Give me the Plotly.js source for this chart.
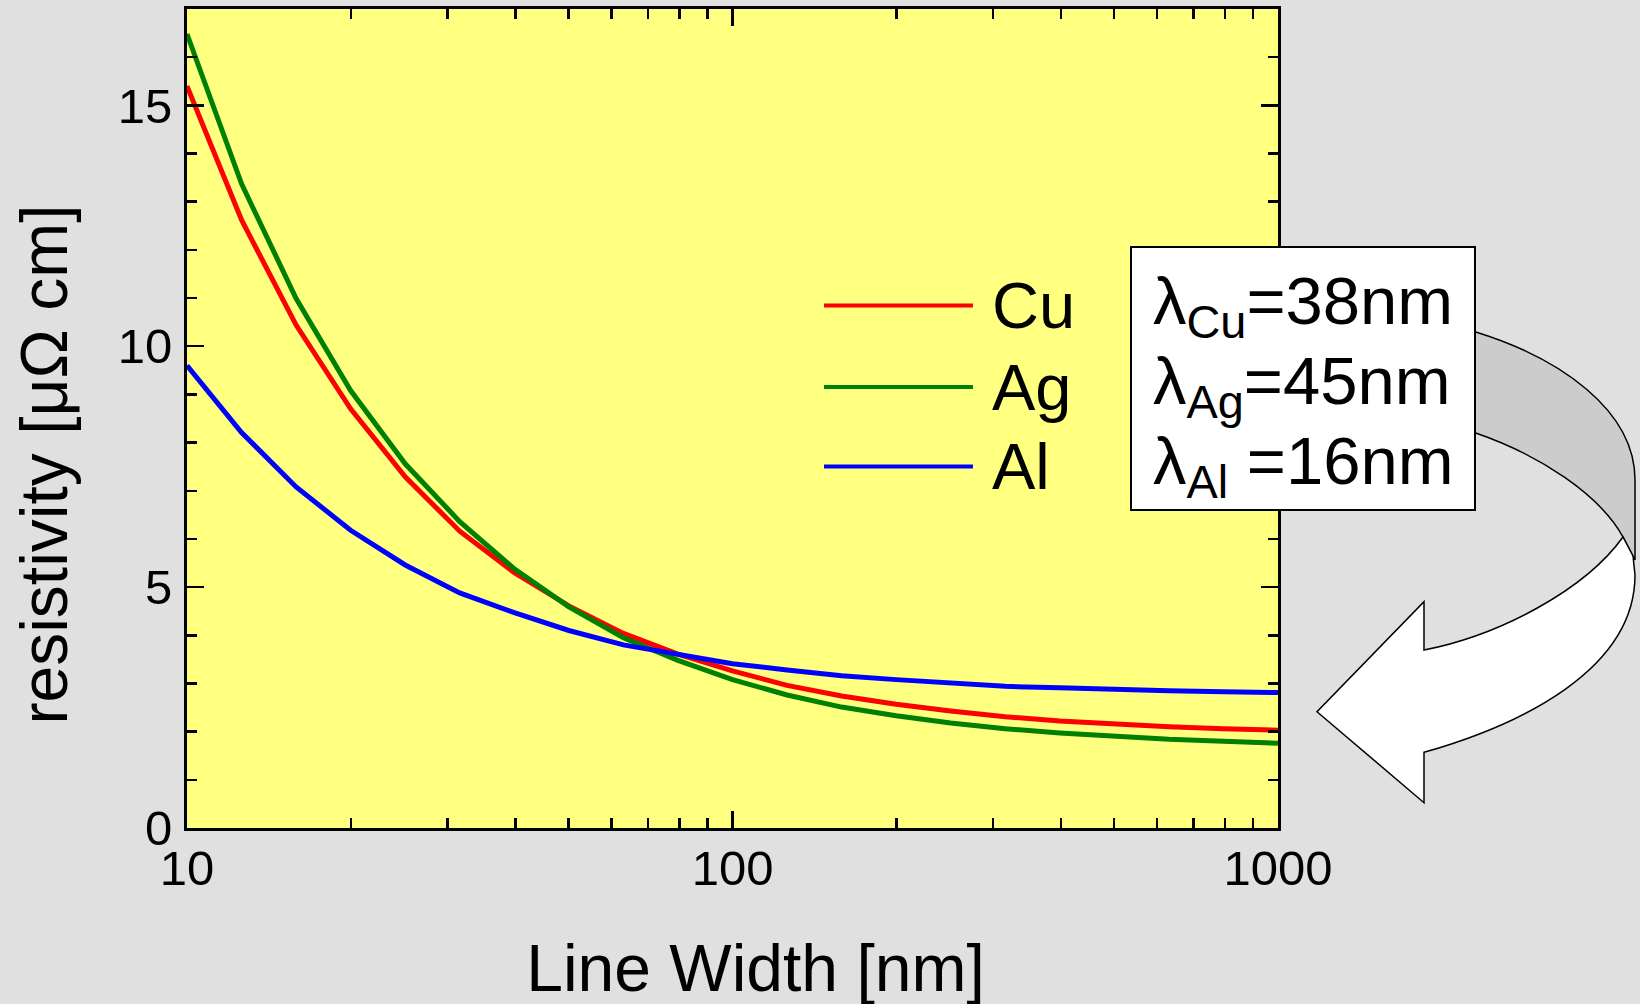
<!DOCTYPE html>
<html>
<head>
<meta charset="utf-8">
<script src="https://cdn.plot.ly/plotly-3.0.1.min.js"></script>
<style>
html,body{margin:0;padding:0;background:#e0e0e0;}
#chart{width:1640px;height:1004px;}
</style>
</head>
<body>
<div id="chart"></div>
<script>
// ---- data ----
const lineWidthNm = [10, 12.59, 15.85, 19.95, 25.12, 31.62, 39.81, 50.12, 63.1, 79.43, 100, 125.9, 158.5, 199.5, 251.2, 316.2, 398.1, 501.2, 631, 794.3, 1000];
const rhoCu = [15.40, 12.62, 10.44, 8.70, 7.29, 6.16, 5.30, 4.61, 4.04, 3.61, 3.26, 2.96, 2.74, 2.57, 2.43, 2.31, 2.22, 2.15, 2.10, 2.06, 2.03];
const rhoAg = [16.48, 13.37, 10.99, 9.08, 7.56, 6.36, 5.38, 4.59, 3.95, 3.48, 3.08, 2.76, 2.51, 2.33, 2.18, 2.06, 1.97, 1.90, 1.84, 1.80, 1.76];
const rhoAl = [9.60, 8.21, 7.08, 6.18, 5.46, 4.88, 4.47, 4.10, 3.80, 3.61, 3.41, 3.28, 3.16, 3.08, 3.00, 2.94, 2.91, 2.87, 2.85, 2.83, 2.81];
const seriesNames = ['Cu', 'Ag', 'Al'];
const seriesColors = ['#ff0000', '#008000', '#0000ff'];
const mfpLabels = ['λ<sub>Cu</sub>=38nm', 'λ<sub>Ag</sub>=45nm', 'λ<sub>Al</sub> =16nm'];
const xTitle = 'Line Width [nm]';
const yTitle = 'resistivity [μΩ cm]';

// ---- geometry helpers (pixel -> paper) ----
const W = 1640, H = 1004, ML = 187, MR = 362, MT = 9, MB = 176;
const PW = W - ML - MR, PH = H - MT - MB;
const px = x => (x - ML) / PW;
const py = y => (H - MB - y) / PH;
function pathPx(cmds) {
  return cmds.map(c => c[0] + ' ' + c.slice(1).map(p => px(p[0]).toFixed(5) + ',' + py(p[1]).toFixed(5)).join(' ')).join(' ') + ' Z';
}
const FONT = 'Liberation Sans, Arial, sans-serif';

const seriesY = [rhoCu, rhoAg, rhoAl];
const traces = seriesNames.map((n, i) => ({
  type: 'scatter', mode: 'lines', name: n,
  x: lineWidthNm, y: seriesY[i],
  line: {color: seriesColors[i], width: 5},
  showlegend: false, hoverinfo: 'skip'
}));

const shapes = [];
// curved arrow: grey back ribbon
shapes.push({type: 'path', xref: 'paper', yref: 'paper', layer: 'above',
  path: pathPx([['M', [1475, 331.7]], ['C', [1560, 358], [1635, 410], [1635, 480]], ['L', [1635, 560]], ['L', [1623, 537]], ['C', [1600, 495], [1540, 455], [1475, 432.7]]]),
  fillcolor: '#cccccc', line: {color: '#000000', width: 1.5}});
// white front ribbon with arrow head
shapes.push({type: 'path', xref: 'paper', yref: 'paper', layer: 'above',
  path: pathPx([['M', [1623, 537]], ['C', [1585, 590], [1500, 635], [1424, 650]], ['L', [1424, 601.7]], ['L', [1317, 711.7]], ['L', [1424, 802.7]], ['L', [1424, 752.3]], ['C', [1520, 725], [1635, 670], [1635, 575]], ['L', [1633, 556]]]),
  fillcolor: '#ffffff', line: {color: '#000000', width: 1.5}});
// mean free path box
shapes.push({type: 'rect', xref: 'paper', yref: 'paper', layer: 'above',
  x0: px(1131), x1: px(1475), y0: py(510), y1: py(247),
  fillcolor: '#ffffff', line: {color: '#000000', width: 2}});

const legendY = [305.5, 387, 466.5];
const annotations = [];
seriesNames.forEach((n, i) => {
  shapes.push({type: 'line', xref: 'paper', yref: 'paper', layer: 'above',
    x0: px(824), x1: px(973), y0: py(legendY[i]), y1: py(legendY[i]),
    line: {color: seriesColors[i], width: 4}});
  annotations.push({xref: 'paper', yref: 'paper', x: px(990), y: py(legendY[i]),
    xanchor: 'left', yanchor: 'middle', showarrow: false, text: n,
    font: {family: FONT, size: 65, color: '#000000'}});
});
const mfpY = [305, 385, 465];
mfpLabels.forEach((t, i) => {
  annotations.push({xref: 'paper', yref: 'paper', x: px(1151), y: py(mfpY[i]),
    xanchor: 'left', yanchor: 'middle', showarrow: false, text: t,
    font: {family: FONT, size: 67, color: '#000000'}});
});

const axisCommon = {
  showline: true, linecolor: '#000000', linewidth: 3, mirror: 'ticks',
  ticks: 'inside', ticklen: 17, tickwidth: 2.5, tickcolor: '#000000',
  showgrid: false, zeroline: false, automargin: false,
  tickfont: {family: FONT, size: 49, color: '#000000'}
};

const layout = {
  width: W, height: H,
  margin: {l: ML, r: MR, t: MT, b: MB, pad: 0},
  paper_bgcolor: '#e0e0e0', plot_bgcolor: '#ffff80',
  font: {family: FONT, color: '#000000'},
  showlegend: false,
  xaxis: Object.assign({}, axisCommon, {
    type: 'log', range: [1, 3], tickmode: 'linear', tick0: 0, dtick: 1,
    exponentformat: 'none', ticklabelstandoff: -5,
    minor: {dtick: 'D1', ticks: 'inside', ticklen: 10, tickwidth: 2.5, tickcolor: '#000000', showgrid: false},
    title: {text: xTitle, font: {family: FONT, size: 66, color: '#000000'}, standoff: 52}
  }),
  yaxis: Object.assign({}, axisCommon, {
    range: [0, 17], tickmode: 'linear', tick0: 0, dtick: 5, ticklabelstandoff: 2,
    minor: {dtick: 1, ticks: 'inside', ticklen: 10, tickwidth: 2.5, tickcolor: '#000000', showgrid: false},
    title: {text: yTitle, font: {family: FONT, size: 66, color: '#000000'}, standoff: 32}
  }),
  shapes: shapes,
  annotations: annotations
};

Plotly.newPlot('chart', traces, layout, {staticPlot: true, displayModeBar: false}).then(gd => {
  // the reference's axis titles sit off the plot-area centre; nudge them
  const xt = gd.querySelector('.g-xtitle');
  if (xt) xt.setAttribute('transform', 'translate(23,0)');
  const yt = gd.querySelector('.g-ytitle');
  if (yt) yt.setAttribute('transform', 'translate(3,46)');
});
</script>
</body>
</html>
